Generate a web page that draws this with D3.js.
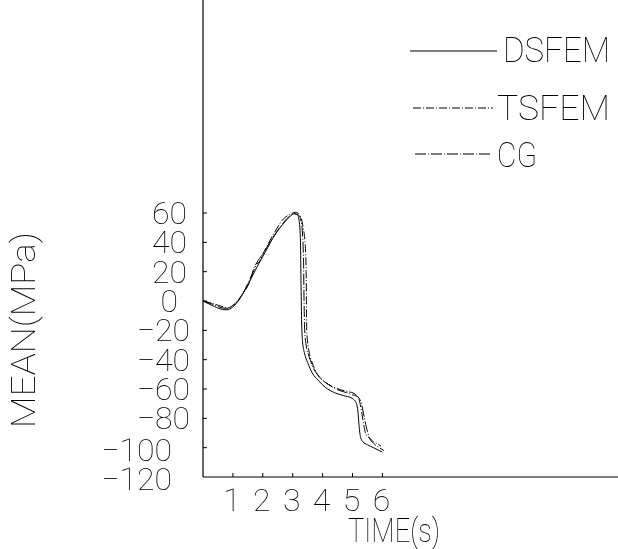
<!DOCTYPE html>
<html><head><meta charset="utf-8">
<script src="https://cdn.jsdelivr.net/npm/d3@7"></script>
<style>
html,body{margin:0;padding:0;background:#fff;}
svg{will-change:transform;}
text{font-family:Roboto,"DejaVu Sans",sans-serif;font-weight:100;fill:#000;opacity:0.999;}
</style></head>
<body>
<svg id="c" width="618" height="549"></svg>
<script>
// ---- data ----
const seriesNames = ["DSFEM", "TSFEM", "CG"];
const dsfemT = [0,0.3,0.6,0.8,1.0,1.2,1.5,1.8,2.1,2.4,2.7,2.9,3.05,3.15,3.22,3.26,3.28,3.3,3.33,3.4,3.5,3.65,3.85,4.1,4.4,4.7,4.95,5.1,5.18,5.22,5.27,5.35,5.5,5.7,5.9,6.0];
const dsfemV = [0,-3,-5.5,-6,-4,1,11,23,34,45,53,57.5,59.5,59,54,40,10,-15,-28,-36,-42,-49,-54,-59,-62.5,-64.5,-66,-68.5,-75,-85,-93,-96,-98,-100,-102,-103];
const tsfemT = [0,0.3,0.6,0.85,1.05,1.3,1.6,1.75,1.85,2.1,2.4,2.65,2.9,3.1,3.25,3.35,3.42,3.45,3.46,3.47,3.5,3.55,3.65,3.8,4.0,4.3,4.6,4.9,5.05,5.2,5.3,5.38,5.45,5.55,5.7,5.8,5.95];
const tsfemV = [0,-1.5,-3.5,-4.5,-2,4,15,25,26,36,47,55,59,60.5,58,50,38,20,-5,-20,-28,-35,-42,-49,-54,-58,-60.5,-62,-63,-66,-75,-85,-91,-93,-96,-97,-99];
const cgT = [0,0.3,0.6,0.8,1.0,1.25,1.5,1.7,1.8,2.0,2.3,2.6,2.85,3.05,3.2,3.3,3.36,3.38,3.4,3.45,3.55,3.7,3.9,4.2,4.5,4.8,5.0,5.15,5.3,5.4,5.5,5.58,5.7,5.9,6.05];
const cgV = [0,-2,-4.5,-5,-3.5,2,12,21,26,32,42,51,57,59.5,58.5,52,30,0,-20,-30,-38,-46,-52,-57,-60.5,-62.5,-64,-65,-70,-80,-89,-94,-97,-100,-102];
const xTicks = [1,2,3,4,5,6];
const xTickLabels = ["1","2","3","4","5","6"];
const yTicks = [60,40,20,0,-20,-40,-60,-80,-100,-120];
const yTickLabels = ["60","40","20","0","\u221220","\u221240","\u221260","\u221280","\u2212100","\u2212120"];
const xTitle = "TIME(s)";
const yTitle = "MEAN(MPa)";

// ---- drawing ----
const svg = d3.select("#c");
const x = d3.scaleLinear().domain([0, 6]).range([203, 382.4]);
const y = d3.scaleLinear().domain([-120, 60]).range([477, 213]);
const axisLeft = 203, axisBottom = y(-120);

// axes lines
svg.append("line").attr("x1", axisLeft).attr("x2", axisLeft).attr("y1", 0).attr("y2", axisBottom)
  .attr("stroke", "#000").attr("stroke-width", 1.2);
svg.append("line").attr("x1", axisLeft).attr("x2", 618).attr("y1", axisBottom).attr("y2", axisBottom)
  .attr("stroke", "#000").attr("stroke-width", 1.2);

// y ticks (inward)
yTicks.filter(v => v > -120).forEach(v => {
  svg.append("line").attr("x1", axisLeft).attr("x2", axisLeft + 4).attr("y1", y(v)).attr("y2", y(v))
    .attr("stroke", "#000").attr("stroke-width", 1);
});
// y tick labels
function labelRight(v) {
  if (Math.abs(v) >= 100) return 172;
  if (v === 0) return 178;
  if (v < 0) return 190;
  return 187;
}
yTicks.forEach((v, i) => {
  svg.append("text").attr("x", labelRight(v)).attr("y", y(v) + (Math.abs(v) >= 100 ? 13 : 11))
    .attr("text-anchor", "end").attr("font-size", 32).text(yTickLabels[i]);
});
// x ticks (inward)
xTicks.forEach((t, i) => {
  svg.append("line").attr("x1", x(t)).attr("x2", x(t)).attr("y1", axisBottom).attr("y2", axisBottom - 4)
    .attr("stroke", "#000").attr("stroke-width", 1);
  svg.append("text").attr("x", x(t) - 1).attr("y", 511)
    .attr("text-anchor", "middle").attr("font-size", 32).text(xTickLabels[i]);
});
// axis titles
svg.append("text").attr("x", 394).attr("y", 542).attr("text-anchor", "middle")
  .attr("font-size", 34).attr("textLength", 92).attr("lengthAdjust", "spacingAndGlyphs").text(xTitle);
svg.append("text").attr("transform", "translate(35,330) rotate(-90)").attr("text-anchor", "middle")
  .attr("font-size", 33).attr("textLength", 196).attr("lengthAdjust", "spacingAndGlyphs").text(yTitle);

// series
const styles = [
  {dash: null},
  {dash: "8,2,1,2"},
  {dash: "11,2,1,2"}
];
const series = [
  dsfemT.map((t, i) => [t, dsfemV[i]]),
  tsfemT.map((t, i) => [t, tsfemV[i]]),
  cgT.map((t, i) => [t, cgV[i]])
];
const line = d3.line().x(d => x(d[0])).y(d => y(d[1])).curve(d3.curveMonotoneX);
series.forEach((s, i) => {
  svg.append("path").attr("d", line(s)).attr("fill", "none").attr("stroke", "#000")
    .attr("stroke-width", 1).attr("stroke-dasharray", styles[i].dash);
});

// legend
const legend = [
  {x1: 410, x2: 497, ly: 51, tx: 503, ty: 62, tl: 107},
  {x1: 413, x2: 493, ly: 108, tx: 497, ty: 120, tl: 113},
  {x1: 415, x2: 490, ly: 154, tx: 497, ty: 167, tl: 40}
];
seriesNames.forEach((n, i) => {
  const L = legend[i];
  svg.append("line").attr("x1", L.x1).attr("x2", L.x2).attr("y1", L.ly).attr("y2", L.ly)
    .attr("stroke", "#000").attr("stroke-width", 1).attr("stroke-dasharray", styles[i].dash);
  svg.append("text").attr("x", L.tx).attr("y", L.ty).attr("font-size", 35)
    .attr("textLength", L.tl).attr("lengthAdjust", "spacingAndGlyphs").text(n);
});
</script>
</body></html>
